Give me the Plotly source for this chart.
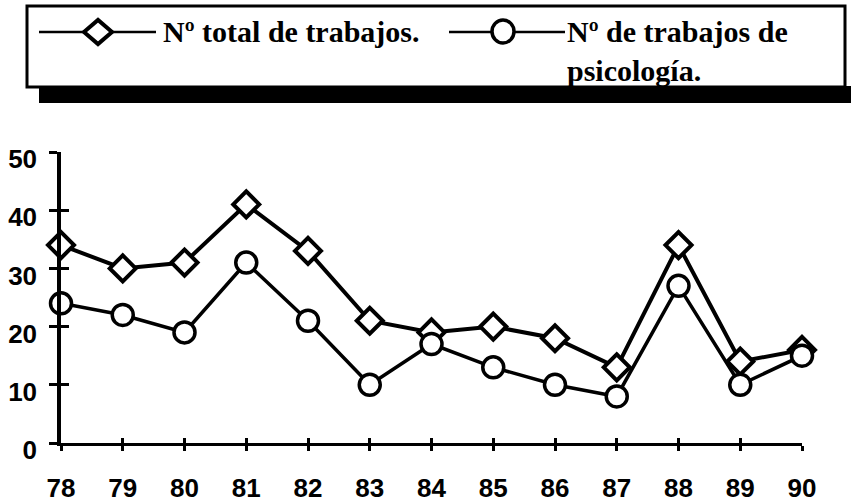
import plotly.graph_objects as go

years = [78, 79, 80, 81, 82, 83, 84, 85, 86, 87, 88, 89, 90]
tick_labels = [str(y) for y in years]
total_trabajos = [34, 30, 31, 41, 33, 21, 19, 20, 18, 13, 34, 14, 16]
trabajos_psicologia = [24, 22, 19, 31, 21, 10, 17, 13, 10, 8, 27, 10, 15]
y_ticks = [0, 10, 20, 30, 40, 50]
legend_total = "Nº total de trabajos."
legend_psico = "Nº de trabajos de<br>psicología."

W, H = 851, 504
L, R, T, B = 61, 49, 152, 61
PW, PH = W - L - R, H - T - B


def px(x):
    return (x - L) / PW


def py(y):
    return (H - B - y) / PH


fig = go.Figure()

fig.add_trace(go.Scatter(
    x=years, y=total_trabajos, mode="lines+markers", name=legend_total,
    line=dict(color="black", width=4),
    marker=dict(symbol="diamond", size=20, color="white",
                line=dict(color="black", width=4)),
    cliponaxis=False, showlegend=False,
))
fig.add_trace(go.Scatter(
    x=years, y=trabajos_psicologia, mode="lines+markers", name=legend_psico,
    line=dict(color="black", width=3.5),
    marker=dict(symbol="circle", size=21, color="white",
                line=dict(color="black", width=3.5)),
    cliponaxis=False, showlegend=False,
))
# invisible trace to activate overlay axes used for the crossing tick marks
fig.add_trace(go.Scatter(
    x=years, y=total_trabajos, xaxis="x2", yaxis="y2", mode="markers",
    marker=dict(opacity=0), hoverinfo="skip", showlegend=False,
))

tick_font = dict(family="Liberation Sans, Arial", size=26, color="black", weight="bold")

fig.update_layout(
    width=W, height=H,
    margin=dict(l=L, r=R, t=T, b=B, pad=0, autoexpand=False),
    paper_bgcolor="white", plot_bgcolor="white",
    font=dict(family="Liberation Sans, Arial", color="black"),
    xaxis=dict(
        range=[years[0], years[-1]], tickmode="array", tickvals=years,
        ticktext=tick_labels, showgrid=False, zeroline=False, automargin=False,
        showline=True, linecolor="black", linewidth=2.5,
        ticks="outside", ticklen=5, tickwidth=3, tickcolor="black",
        tickfont=tick_font, ticklabelstandoff=15,
    ),
    yaxis=dict(
        range=[0, 50], tickmode="array", tickvals=y_ticks,
        showgrid=False, zeroline=False, automargin=False,
        showline=True, linecolor="black", linewidth=3.5,
        ticks="outside", ticklen=8, tickwidth=2.5, tickcolor="black",
        tickfont=tick_font, ticklabelstandoff=7, ticklabelshift=7,
    ),
    xaxis2=dict(
        overlaying="x", matches="x", side="bottom", anchor="y2", automargin=False,
        range=[years[0], years[-1]], tickmode="array", tickvals=years,
        showticklabels=False, showgrid=False, zeroline=False, showline=False,
        ticks="inside", ticklen=5, tickwidth=3, tickcolor="black",
    ),
    yaxis2=dict(
        overlaying="y", matches="y", side="left", anchor="x2", automargin=False,
        range=[0, 50], tickmode="array", tickvals=y_ticks,
        showticklabels=False, showgrid=False, zeroline=False, showline=False,
        ticks="inside", ticklen=8, tickwidth=2.5, tickcolor="black",
    ),
    showlegend=False,
)

shapes = []
# legend shadow and box
shapes.append(dict(type="rect", xref="paper", yref="paper",
                   x0=px(39), x1=px(851), y0=py(103), y1=py(86),
                   fillcolor="black", line=dict(width=0), layer="above"))
shapes.append(dict(type="rect", xref="paper", yref="paper",
                   x0=px(27), x1=px(845), y0=py(87), y1=py(6),
                   fillcolor="white", line=dict(color="black", width=3), layer="above"))
# legend sample 1: line + diamond
shapes.append(dict(type="line", xref="paper", yref="paper",
                   x0=px(39), x1=px(156), y0=py(32), y1=py(32),
                   line=dict(color="black", width=2.5), layer="above"))
cx, cy, hw, hh = 98, 32, 14, 12
path = "M {} {} L {} {} L {} {} L {} {} Z".format(
    px(cx - hw), py(cy), px(cx), py(cy - hh), px(cx + hw), py(cy), px(cx), py(cy + hh))
shapes.append(dict(type="path", xref="paper", yref="paper", path=path,
                   fillcolor="white", line=dict(color="black", width=4), layer="above"))
# legend sample 2: line + circle
shapes.append(dict(type="line", xref="paper", yref="paper",
                   x0=px(449), x1=px(565), y0=py(32), y1=py(32),
                   line=dict(color="black", width=2.5), layer="above"))
shapes.append(dict(type="circle", xref="paper", yref="paper",
                   x0=px(492), x1=px(514), y0=py(43), y1=py(20),
                   fillcolor="white", line=dict(color="black", width=3.5), layer="above"))
fig.update_layout(shapes=shapes)

leg_font = dict(family="Liberation Serif, Times New Roman", size=30, color="black", weight="bold")
fig.add_annotation(xref="paper", yref="paper", x=px(161), y=py(32),
                   xanchor="left", yanchor="middle", text=legend_total,
                   showarrow=False, font=leg_font, align="left")
fig.add_annotation(xref="paper", yref="paper", x=px(565), y=py(51),
                   xanchor="left", yanchor="middle", text=legend_psico,
                   showarrow=False, font=leg_font, align="left")

fig.write_html(
    "out.html",
    config={"displayModeBar": False},
    post_script="document.body.style.margin='0';document.body.style.overflow='hidden';",
)
